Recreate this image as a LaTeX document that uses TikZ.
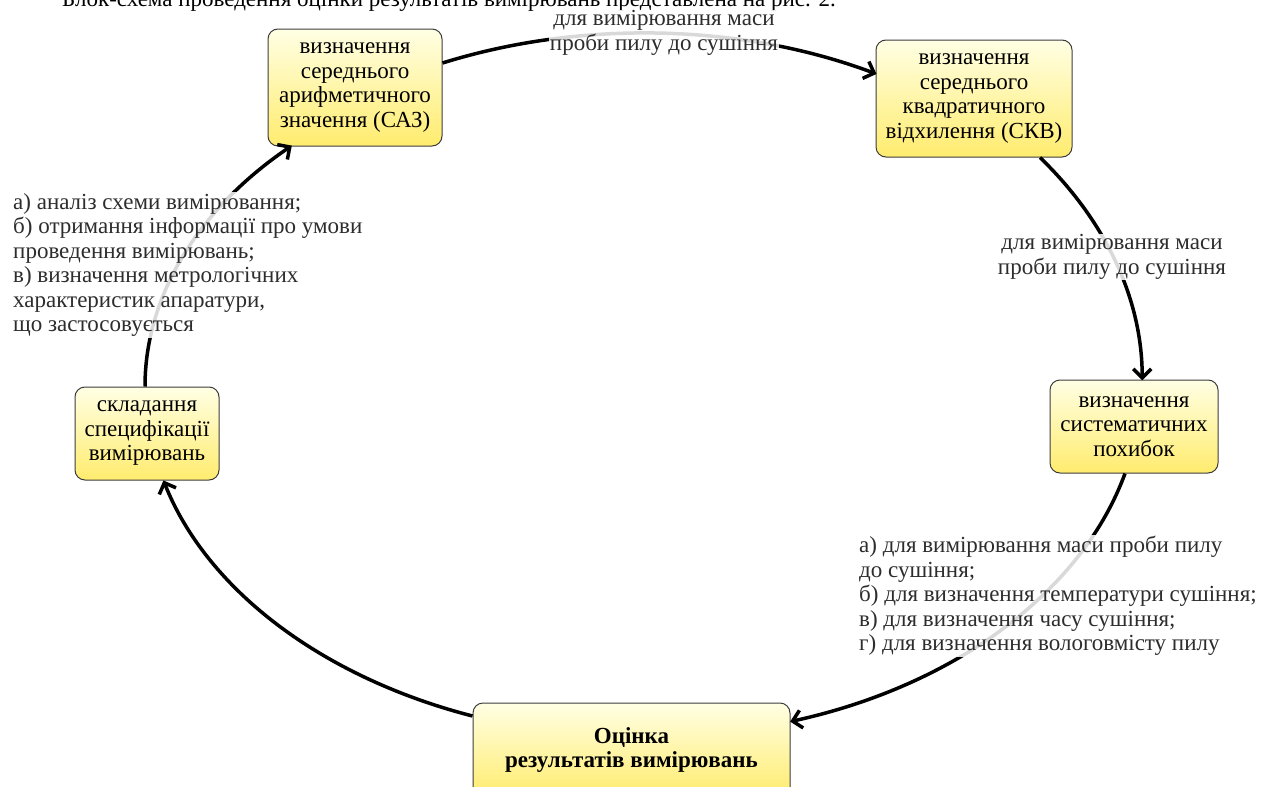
\documentclass[tikz,border=0pt]{standalone}
\usepackage{fontspec}
\setmainfont{Liberation Serif}
\usetikzlibrary{arrows.meta}
\definecolor{boxtop}{RGB}{255,255,228}
\definecolor{boxbot}{RGB}{255,236,110}
\definecolor{boxline}{RGB}{60,60,60}
\definecolor{labtext}{RGB}{45,45,45}
\begin{document}
\begin{tikzpicture}[x=1pt,y=1pt,
  every node/.style={font=\fontsize{23}{24.5}\selectfont},
  stagebox/.style={draw=boxline, line width=1pt, rounded corners=10pt,
    top color=boxtop, bottom color=boxbot, align=center, inner sep=2pt},
  flow/.style={line width=3.5pt, -{Straight Barb[length=9pt,width=18pt]}},
  note/.style={fill=white, fill opacity=0.85, text opacity=1, text=labtext, inner sep=1pt}
]
\fill[white] (0,0) rectangle (1261,-787);
\useasboundingbox (0,0) rectangle (1261,-787);

% heading (clipped at top)
\node[anchor=base west, inner sep=0pt] (head) at (62,-6)
  {Блок-схема проведення оцінки результатів вимірювань представлена на рис. 2.};

% stages
\node[stagebox, minimum width=174pt, minimum height=117pt] (saz) at (355,-87.5)
  {визначення\\середнього\\арифметичного\\значення (САЗ)};
\node[stagebox, minimum width=196pt, minimum height=117pt] (skv) at (974,-98.5)
  {визначення\\середнього\\квадратичного\\відхилення (СКВ)};
\node[stagebox, minimum width=168pt, minimum height=93pt] (sys) at (1134,-426.5)
  {визначення\\систематичних\\похибок};
\node[stagebox, minimum width=317pt, minimum height=94pt, font=\fontsize{23}{24.5}\selectfont\bfseries] (est) at (631.5,-750)
  {Оцінка\\результатів вимірювань};
\node[stagebox, minimum width=144pt, minimum height=93pt] (skl) at (147,-433.5)
  {складання\\специфікації\\вимірювань};

% connectors (arcs of the cycle)
\draw[flow] ([yshift=24.5pt]saz.east) arc[start angle=113.8, end angle=62.1, x radius=498pt, y radius=352pt];
\draw[flow] ([xshift=66pt]skv.south) arc[start angle=37.4, end angle=0, x radius=497pt, y radius=367pt];
\draw[flow] ([xshift=-9pt]sys.south) arc[start angle=-14.5, end angle=-72.8, x radius=498pt, y radius=352pt];
\draw[flow] ([yshift=34pt]est.west) arc[start angle=250, end angle=195.7, x radius=498pt, y radius=352pt];
\draw[flow] ([xshift=-2pt]skl.north) arc[start angle=180, end angle=134.8, x radius=497pt, y radius=339.5pt];

% labels
\node[note, align=center] (ltop) at (664,-33)
  {для вимірювання маси\\проби пилу до сушіння};
\node[note, align=center] (lright) at (1112,-257)
  {для вимірювання маси\\проби пилу до сушіння};
\node[note, align=left, anchor=west] (lleft) at (12,-265)
  {а) аналіз схеми вимірювання;\\б) отримання інформації про умови\\проведення вимірювань;\\в) визначення метрологічних\\характеристик апаратури,\\що застосовується};
\node[note, align=left, anchor=west] (lbr) at (858,-596)
  {а) для вимірювання маси проби пилу\\до сушіння;\\б) для визначення температури сушіння;\\в) для визначення часу сушіння;\\г) для визначення вологовмісту пилу};
\end{tikzpicture}
\end{document}
